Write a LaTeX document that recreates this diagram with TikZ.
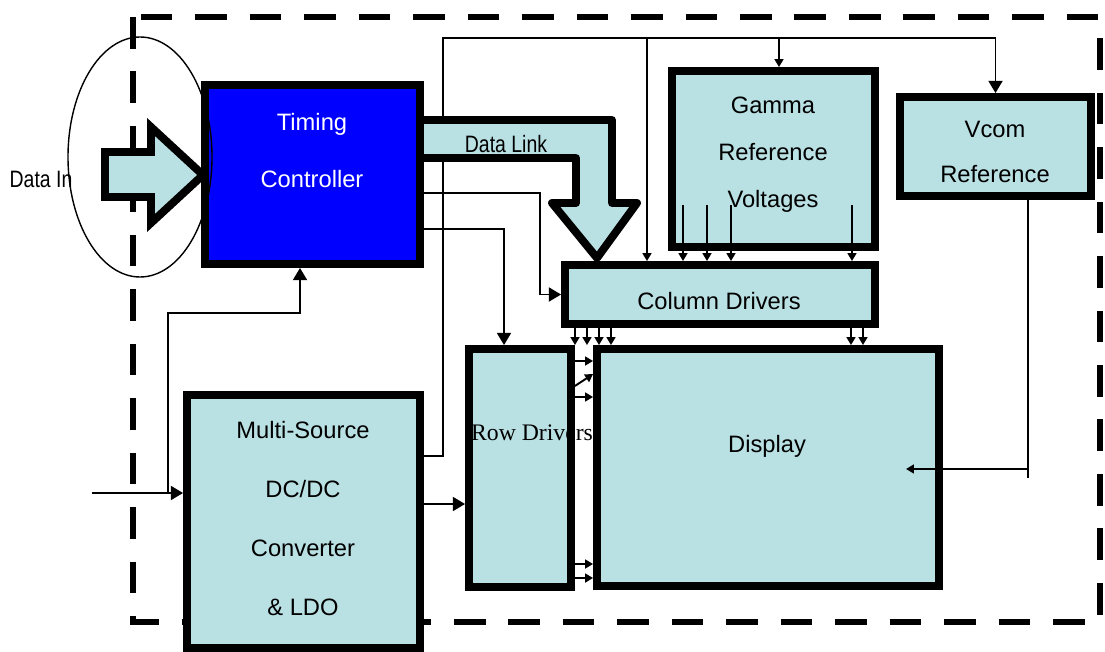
\documentclass[tikz,border=0pt]{standalone}
\usepackage{fontspec}
\setmainfont{Liberation Sans}
\newfontfamily\rowfont{Liberation Serif}
\usetikzlibrary{arrows.meta}
\definecolor{boxfill}{RGB}{185,224,227}
\definecolor{tconblue}{RGB}{0,0,255}

\tikzset{
  blk/.style={draw=black,line width=4.5pt,fill=boxfill},
  conn/.style={draw=black,line width=1.1pt},
  arr/.style={conn,-{Triangle[length=7pt,width=8pt]}},
  sarr/.style={conn,-{Triangle[length=4.5pt,width=5pt]}},
  txt/.style={align=center,inner sep=0pt,font=\fontsize{13.5pt}{#1}\selectfont},
  txt/.default=16pt
}

\begin{document}
\begin{tikzpicture}[x=0.02cm,y=-0.02cm]
    \providecommand{\narrow}[1]{\scalebox{0.82}[1]{#1}}
    \useasboundingbox (0,0) rectangle (1105,652);
    % panel boundary
    \draw[line width=3.4pt,dash pattern=on 18pt off 13pt] (133,17) rectangle (1100,622);

    % supply bus (behind the data link)
    \coordinate (busL) at (443,38);
    \node[blk,minimum width=4.66cm,minimum height=5.06cm] (dcdc) at (303.5,521.5) {};
    \node[blk,minimum width=3.82cm,minimum height=1.98cm] (vcom) at (995.5,146.5) {};
    \node[blk,minimum width=4.06cm,minimum height=3.52cm] (gamma) at (773.5,159) {};
    \node[blk,minimum width=6.2cm,minimum height=1.18cm] (coldrv) at (720,294.5) {};
    \draw[arr] (dcdc.east |- 0,456) -| (busL) -| (vcom.north);
    \draw[sarr] (647,38) -- (coldrv.north -| 647,0);
    \draw[sarr] (779,38) -- (gamma.north -| 779,0);

    % data link
    \draw[blk,line join=round] (415,120) -- (612,120) -- (612,203) -- (637,203) -- (597,258)
        -- (552,203) -- (576,203) -- (576,158) -- (415,158);
    % data in
    \draw[blk,line join=miter] (105,152) -- (151,152) -- (151,127) -- (203,175) -- (151,223)
        -- (151,197) -- (105,197) -- cycle;

    \node[blk,fill=tconblue,minimum width=4.3cm,minimum height=3.58cm] (tcon) at (312.5,174.5) {};
    \node[blk,minimum width=6.84cm,minimum height=4.74cm] (display) at (768,467.5) {};
    \node[blk,minimum width=2.04cm,minimum height=4.76cm] (rowdrv) at (520,468) {};

    % control and power lines
    \coordinate (pin) at (92,493);
    \coordinate (pjn) at (168,493);
    \draw[arr] (pin) -- (dcdc.west |- pin);
    \draw[arr] (pjn) |- (300,313) -- (tcon.south -| 300,0);
    \draw[arr] (tcon.east |- 0,193) -| (540,294.5) -- (coldrv.west);
    \draw[arr] (tcon.east |- 0,229) -| (rowdrv.north -| 504,0);
    \draw[arr] (dcdc.east |- 0,504) -- (rowdrv.west |- 0,504);
    \foreach \x in {683,707,731,852}
        \draw[sarr] (\x,205) -- (coldrv.north -| \x,0);
    \foreach \x in {575,587,599,611,851,863}
        \draw[sarr] (coldrv.south -| \x,0) -- (display.north -| \x,0);
    \foreach \y in {361,397,564,578}
        \draw[sarr] (rowdrv.east |- 0,\y) -- (display.west |- 0,\y);
    \draw[sarr] (rowdrv.east |- 0,386) -- (display.west |- 0,374);
    \coordinate (vcomin) at (906,469);
    \draw[conn] (vcom.south -| 1028,0) -- (1028,478);
    \draw[sarr] (1028,469) -- (vcomin);

    \draw[line width=0.8pt] (140,157) ellipse [x radius=72,y radius=120];

    % labels
    \node[txt] (dinlbl) at (41,179) {\narrow{Data In}};
    \node[txt] (dlinklbl) at (506,144) {\narrow{Data Link}};
    \node[txt=32.3pt,text=white] (tcontxt) at (312,150.5) {Timing\\Controller};
    \node[txt=26.9pt] (gammatxt) at (773,154.5) {Gamma\\Reference\\Voltages};
    \node[txt=26pt] (vcomtxt) at (995,152) {Vcom\\Reference};
    \node[txt] (coltxt) at (719,301) {Column Drivers};
    \node[txt] (disptxt) at (767,446) {Display};
    \node[txt,font=\rowfont\fontsize{13.5pt}{16pt}\selectfont] (rowtxt) at (532,433) {Row Drivers};
    \node[txt=33.4pt] (dcdctxt) at (303,518.5) {Multi-Source\\DC/DC\\Converter\\\& LDO};
\end{tikzpicture}
\end{document}
